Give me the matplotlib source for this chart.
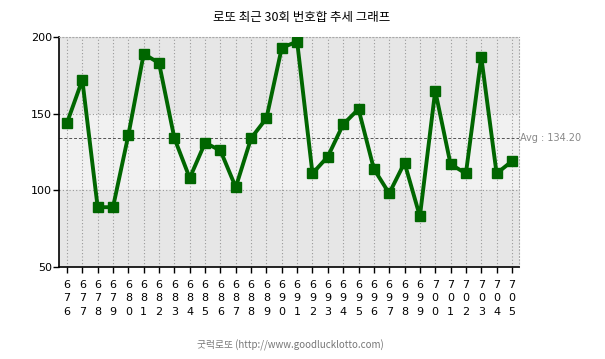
import matplotlib
matplotlib.use("Agg")
import matplotlib.pyplot as plt

plt.rcParams['font.family'] = ['Noto Sans CJK KR', 'DejaVu Sans']

# draw numbers 676..705 and their number sums
draws = list(range(676, 706))
sums = [144, 172, 89, 89, 136, 189, 183, 134, 108, 131,
        126, 102, 134, 147, 193, 197, 111, 122, 143, 153,
        114, 98, 118, 83, 165, 117, 111, 187, 111, 119]
title = "로또 최근 30회 번호합 추세 그래프"
footer = "굿럭로또 (http://www.goodlucklotto.com)"
y_ticks = [50, 100, 150, 200]

avg = sum(sums) / len(sums)

fig = plt.figure(figsize=(6.05, 3.59), dpi=100)
ax = fig.add_axes([59 / 605, 1 - 267 / 359, 460 / 605, 230 / 359])

x = list(range(len(draws)))
ax.set_xlim(-0.52, len(draws) - 1 + 0.46)
ax.set_ylim(50, 200)

# background bands
ax.axhspan(150, 200, color='#e6e6e6', zorder=0)
ax.axhspan(100, 150, color='#f1f1f1', zorder=0)
ax.axhspan(50, 100, color='#e6e6e6', zorder=0)

# grid
for xi in x:
    ax.axvline(xi, color='#999999', linestyle=(0, (1, 2)), linewidth=0.8, zorder=1)
for yv in [100, 150, 200]:
    ax.axhline(yv, color='#999999', linestyle=(0, (1, 2)), linewidth=0.8, zorder=1)

# average line
ax.axhline(avg, color='#555555', linestyle=(0, (3, 2)), linewidth=0.7, zorder=1)
ax.text(len(draws) - 1 + 0.55, avg, f"Avg : {avg:.2f}", color='#888888',
        fontsize=7, va='center', ha='left', family=['DejaVu Sans'], clip_on=False)

ax.plot(x, sums, color='#006600', linewidth=2.8, marker='s', markersize=7.5,
        markerfacecolor='#006600', markeredgecolor='#006600', zorder=3)

ax.set_xticks(x)
ax.set_xticklabels(["\n".join(str(d)) for d in draws], fontsize=8,
                   family=['DejaVu Sans'], linespacing=1.45)
ax.set_yticks(y_ticks)
ax.set_yticklabels([str(v) for v in y_ticks], fontsize=8, family=['DejaVu Sans'])
ax.tick_params(axis='x', length=4, width=1, pad=5)
ax.tick_params(axis='y', length=4, width=1, pad=1)

for side in ['top', 'right']:
    ax.spines[side].set_color('#aaaaaa')
    ax.spines[side].set_linestyle((0, (1, 2)))
    ax.spines[side].set_linewidth(0.8)
ax.spines['left'].set_linewidth(1.2)
ax.spines['bottom'].set_linewidth(1.2)

fig.text(302 / 605, 1 - 17 / 359, title, ha='center', va='center', fontsize=9)
fig.text(290 / 605, 1 - 345 / 359, footer, ha='center', va='center', fontsize=7, color='#777777')

fig.savefig("out.png", dpi=100)
